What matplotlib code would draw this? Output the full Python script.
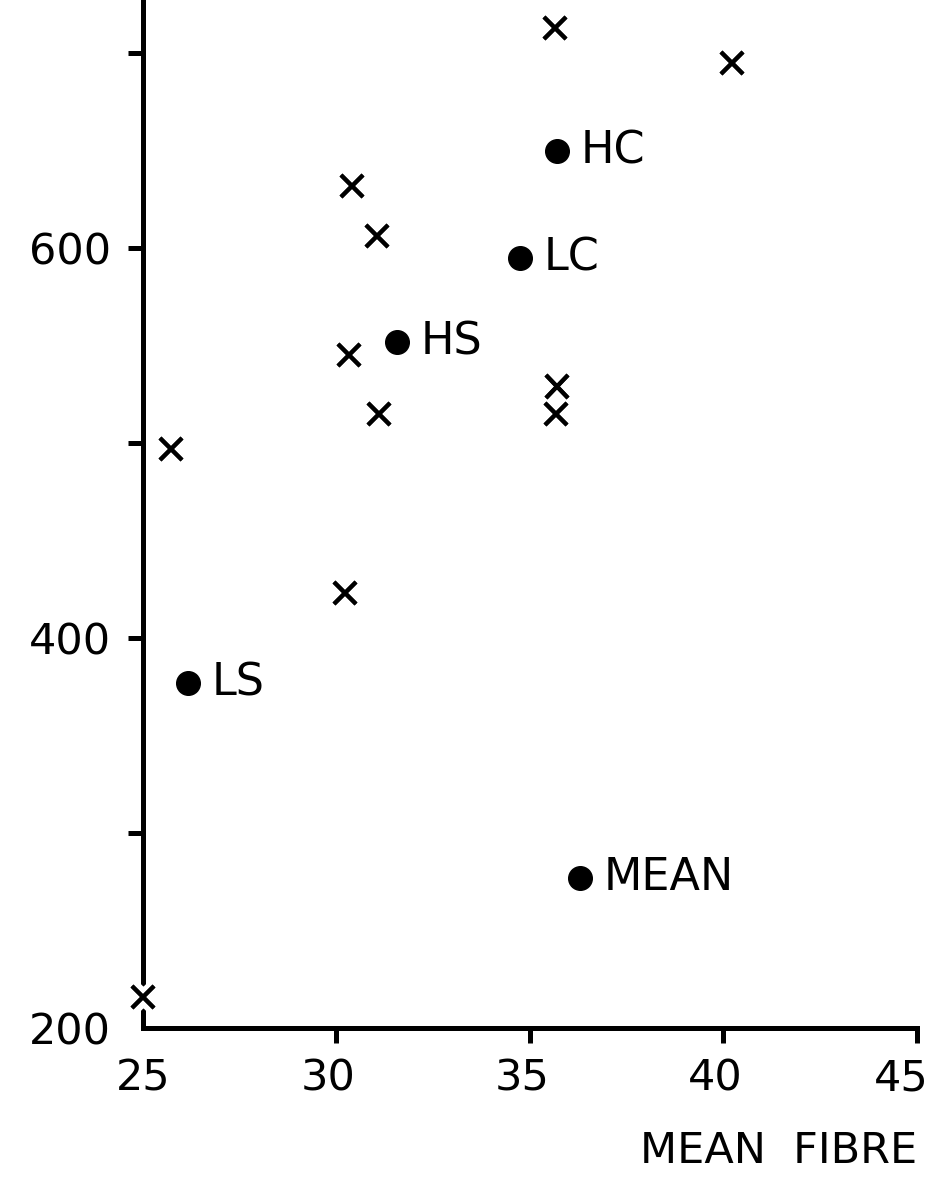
import numpy as np
import matplotlib.pyplot as plt
import matplotlib.patheffects as pe
import matplotlib.transforms as mtransforms

# individual samples (crosses)
fibre_x = [35.65, 40.22, 30.40, 31.05, 30.32, 31.10, 35.70, 35.67, 25.72, 30.22, 25.0]
value_x = [713, 695, 632, 606, 545, 515, 529, 515, 497, 423, 216]

# group means (filled dots)
groups = ['HC', 'LC', 'HS', 'LS', 'MEAN']
fibre_g = [35.70, 34.74, 31.56, 26.16, 36.29]
value_g = [650, 595, 552, 377, 277]

xticks = [25, 30, 35, 40, 45]
yticks = [200, 300, 400, 500, 600, 700]
ylabels = ['200', '', '400', '', '600', '']

plt.rcParams['font.family'] = 'DejaVu Sans'

fig = plt.figure(figsize=(9.38, 11.96), dpi=100)
ax = fig.add_axes([0.15245, 0.14047, 0.82516, 0.85953])

halo = [pe.withStroke(linewidth=11, foreground='white'), pe.Normal()]
ax.plot(fibre_x, value_x, linestyle='none', marker='x', markersize=16,
        mew=3.0, color='black', zorder=3, clip_on=False, path_effects=halo)

ax.plot(fibre_g, value_g, linestyle='none', marker='o', markersize=17,
        color='black', zorder=3, clip_on=False)
for g, fx, vy in zip(groups, fibre_g, value_g):
    ax.annotate(g, (fx, vy), xytext=(17, 0), textcoords='offset points',
                fontsize=32, va='center', ha='left')

ax.set_xlim(25, 45)
ax.set_ylim(200, 727.2)
ax.spines['top'].set_visible(False)
ax.spines['right'].set_visible(False)
ax.spines['left'].set_linewidth(3.6)
ax.spines['bottom'].set_linewidth(3.6)

ax.set_xticks(xticks)
ax.set_xticklabels([str(t) for t in xticks])
ax.set_yticks(yticks)
ax.set_yticklabels(ylabels)
ax.tick_params(direction='out', length=11, width=3.6, labelsize=31)
ax.tick_params(axis='x', pad=10)
ax.tick_params(axis='y', pad=12)
ax.xaxis.get_major_ticks()[0].tick1line.set_visible(False)
ax.yaxis.get_major_ticks()[0].tick1line.set_visible(False)

# hand-lettered labels sit a little left of their ticks
shift = mtransforms.ScaledTranslation(-6 / 72, 0, fig.dpi_scale_trans)
for lab in ax.get_xticklabels()[1:]:
    lab.set_transform(lab.get_transform() + shift)
edge = mtransforms.ScaledTranslation(-5 / 72, 0, fig.dpi_scale_trans)
last = ax.get_xticklabels()[-1]
last.set_transform(last.get_transform() + edge)

ax.set_xlabel('MEAN  FIBRE', fontsize=31, loc='right', labelpad=22)

fig.savefig('out.png', dpi=100)
